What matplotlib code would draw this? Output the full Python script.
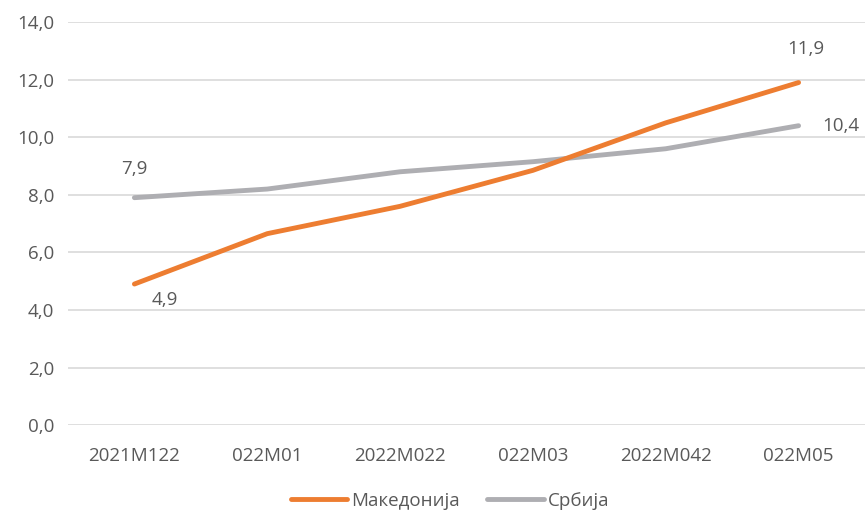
import matplotlib.pyplot as plt
from matplotlib.ticker import FuncFormatter

# data
months = ['2021M122', '022M01', '2022M022', '022M03', '2022M042', '022M05']
makedonija = [4.9, 6.65, 7.6, 8.85, 10.5, 11.9]
srbija = [7.9, 8.2, 8.8, 9.15, 9.6, 10.4]

plt.rcParams['font.family'] = ['Open Sans', 'DejaVu Sans']
txt = '#595959'

fig = plt.figure(figsize=(8.65, 5.14), dpi=100)
ax = fig.add_axes([0.0786, 0.173, 0.9214, 0.784])

x = range(len(months))
ax.plot(x, makedonija, color='#ED7D31', lw=3.5, solid_capstyle='round', label='Македонија', zorder=3)
ax.plot(x, srbija, color='#AEAEB2', lw=3.5, solid_capstyle='round', label='Србија', zorder=2)

ax.set_xlim(-0.5, 5.5)
ax.set_ylim(0, 14)
ax.set_yticks(range(0, 15, 2))
ax.yaxis.set_major_formatter(FuncFormatter(lambda v, p: f'{v:.1f}'.replace('.', ',')))
ax.set_xticks(list(x))
ax.set_xticklabels(months)
ax.grid(axis='y', color='#D9D9D9', lw=1.2)
ax.set_axisbelow(True)
for s in ax.spines.values():
    s.set_visible(False)
ax.tick_params(length=0, labelsize=13.5, colors=txt, pad=10)
ax.tick_params(axis='x', pad=16)

def fmt(v):
    return f'{v:.1f}'.replace('.', ',')

ax.annotate(fmt(srbija[0]), (0, srbija[0]), xytext=(0, 14), textcoords='offset points',
            ha='center', va='bottom', fontsize=13.5, color=txt)
ax.annotate(fmt(makedonija[0]), (0, makedonija[0]), xytext=(22, -5), textcoords='offset points',
            ha='center', va='top', fontsize=13.5, color=txt)
ax.annotate(fmt(makedonija[-1]), (5, makedonija[-1]), xytext=(5, 18), textcoords='offset points',
            ha='center', va='bottom', fontsize=13.5, color=txt)
ax.annotate(fmt(srbija[-1]), (5, srbija[-1]), xytext=(17, 0), textcoords='offset points',
            ha='left', va='center', fontsize=13.5, color=txt)

leg = fig.legend(loc='lower center', bbox_to_anchor=(0.52, -0.025), ncol=2, frameon=False,
                 fontsize=13.5, handlelength=3, handletextpad=0.2, columnspacing=1.5)
for t in leg.get_texts():
    t.set_color(txt)

fig.savefig('out.png', dpi=100)
